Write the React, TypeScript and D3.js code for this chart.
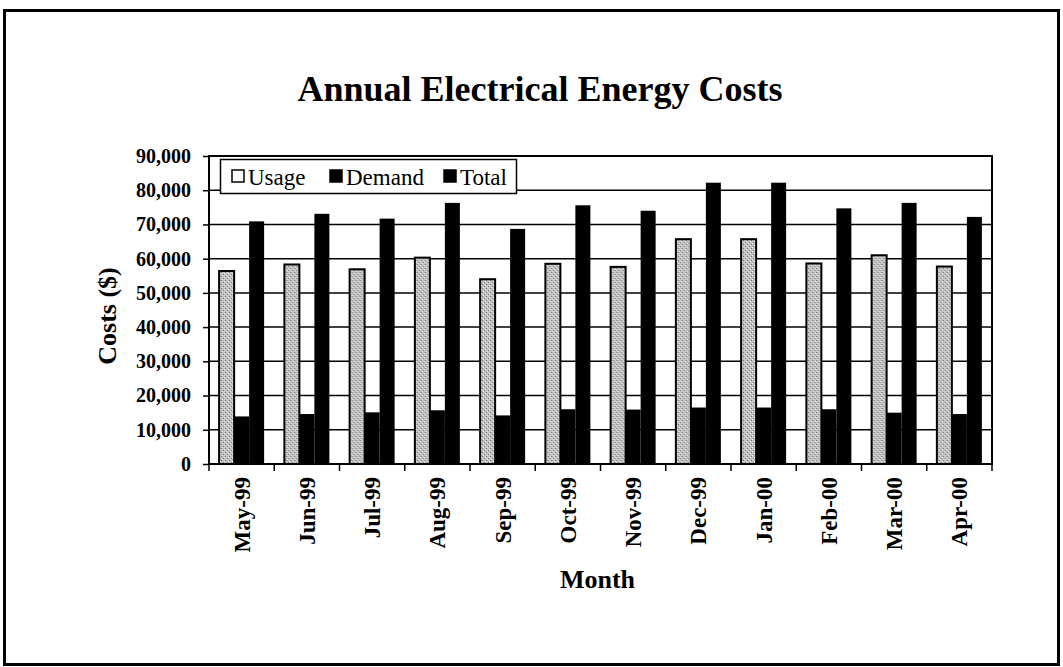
import * as d3 from "d3";
import { useEffect, useRef } from "react";

const months = [
    "May-99", "Jun-99", "Jul-99", "Aug-99", "Sep-99", "Oct-99",
    "Nov-99", "Dec-99", "Jan-00", "Feb-00", "Mar-00", "Apr-00",
];
const usage = [56400, 58300, 56900, 60300, 54000, 58500, 57600, 65700, 65700, 58600, 61000, 57700];
const demand = [13900, 14600, 15100, 15700, 14200, 16000, 15900, 16500, 16500, 16000, 15000, 14600];
const total = [70900, 73100, 71700, 76300, 68700, 75600, 74000, 82200, 82200, 74700, 76300, 72200];
const seriesNames = ["Usage", "Demand", "Total"];
const yTicks = [0, 10000, 20000, 30000, 40000, 50000, 60000, 70000, 80000, 90000];

const W = 1063;
const H = 667;
const FONT = "'Liberation Serif', 'Times New Roman', serif";

export default function App() {
    const ref = useRef<SVGSVGElement | null>(null);

    useEffect(() => {
        if (!ref.current) return;
        const svg = d3.select(ref.current);
        svg.selectAll("*").remove();

        const plot = { left: 209, right: 992, top: 156, bottom: 464 };

        // stipple fill for the usage bars
        const defs = svg.append("defs");
        const pat = defs
            .append("pattern")
            .attr("id", "stipple")
            .attr("width", 4)
            .attr("height", 4)
            .attr("patternUnits", "userSpaceOnUse");
        pat.append("rect").attr("width", 4).attr("height", 4).attr("fill", "#c2c2c2");
        pat.append("rect").attr("x", 0).attr("y", 0).attr("width", 1).attr("height", 1).attr("fill", "#6e6e6e");
        pat.append("rect").attr("x", 2).attr("y", 2).attr("width", 1).attr("height", 1).attr("fill", "#7c7c7c");
        pat.append("rect").attr("x", 3).attr("y", 1).attr("width", 1).attr("height", 1).attr("fill", "#f0f0f0");
        pat.append("rect").attr("x", 1).attr("y", 3).attr("width", 1).attr("height", 1).attr("fill", "#e6e6e6");

        // outer frame
        svg.append("rect")
            .attr("x", 4.5).attr("y", 10.5)
            .attr("width", 1054).attr("height", 654)
            .attr("fill", "white")
            .attr("stroke", "black")
            .attr("stroke-width", 3);

        const x0 = d3.scaleBand<string>().domain(months).range([plot.left, plot.right]).padding(0);
        const x1 = d3
            .scaleBand<string>()
            .domain(seriesNames)
            .range([0, x0.bandwidth()])
            .paddingInner(0)
            .paddingOuter(0.675);
        const y = d3.scaleLinear().domain([0, 90000]).range([plot.bottom, plot.top]);

        // gridlines
        svg.append("g")
            .selectAll("line")
            .data(yTicks.slice(1, -1))
            .join("line")
            .attr("x1", plot.left)
            .attr("x2", plot.right)
            .attr("y1", d => y(d))
            .attr("y2", d => y(d))
            .attr("stroke", "black")
            .attr("stroke-width", 1.5);

        const rows = months.map((m, i) => ({ month: m, values: [usage[i], demand[i], total[i]] }));

        const groups = svg
            .append("g")
            .selectAll("g")
            .data(rows)
            .join("g")
            .attr("transform", d => `translate(${x0(d.month)},0)`);

        groups
            .selectAll("rect")
            .data(d => d.values.map((v, j) => ({ key: seriesNames[j], v })))
            .join("rect")
            .attr("x", d => x1(d.key)!)
            .attr("width", x1.bandwidth())
            .attr("y", d => y(d.v))
            .attr("height", d => y(0) - y(d.v))
            .attr("fill", d => (d.key === "Usage" ? "url(#stipple)" : "black"))
            .attr("stroke", "black")
            .attr("stroke-width", d => (d.key === "Usage" ? 2 : 0));

        // plot border
        svg.append("rect")
            .attr("x", plot.left)
            .attr("y", plot.top)
            .attr("width", plot.right - plot.left)
            .attr("height", plot.bottom - plot.top)
            .attr("fill", "none")
            .attr("stroke", "black")
            .attr("stroke-width", 2);

        // y axis
        const yAxis = svg
            .append("g")
            .attr("transform", `translate(${plot.left},0)`)
            .call(d3.axisLeft(y).tickValues(yTicks).tickSize(6).tickPadding(12).tickFormat(d3.format(",") as any));
        yAxis.select(".domain").remove();
        yAxis.selectAll("line").attr("stroke", "black").attr("stroke-width", 1.5);
        yAxis.selectAll("text")
            .style("font-family", FONT)
            .style("font-size", "20px")
            .style("font-weight", "bold")
            .attr("fill", "black");

        // x ticks between months
        const edges = months.map(m => x0(m)!).concat([plot.right]);
        svg.append("g")
            .selectAll("line")
            .data(edges)
            .join("line")
            .attr("x1", d => d)
            .attr("x2", d => d)
            .attr("y1", plot.bottom)
            .attr("y2", plot.bottom + 7)
            .attr("stroke", "black")
            .attr("stroke-width", 1.5);

        svg.append("g")
            .selectAll("text")
            .data(months)
            .join("text")
            .attr("transform", d => `translate(${x0(d)! + x0.bandwidth() / 2},477) rotate(-90)`)
            .attr("dy", "0.35em")
            .attr("text-anchor", "end")
            .style("font-family", FONT)
            .style("font-size", "23px")
            .style("font-weight", "bold")
            .text(d => d);

        // legend
        const lg = svg.append("g");
        lg.append("rect")
            .attr("x", 220.5).attr("y", 159.5)
            .attr("width", 296).attr("height", 34)
            .attr("fill", "white")
            .attr("stroke", "black")
            .attr("stroke-width", 1.5);
        const legendX = [232, 330, 444];
        seriesNames.forEach((s, i) => {
            lg.append("rect")
                .attr("x", legendX[i]).attr("y", 170)
                .attr("width", 12).attr("height", 12)
                .attr("fill", i === 0 ? "white" : "black")
                .attr("stroke", "black")
                .attr("stroke-width", 1.5);
            lg.append("text")
                .attr("x", legendX[i] + 16)
                .attr("y", 185)
                .style("font-family", FONT)
                .style("font-size", "23px")
                .text(s);
        });

        // titles
        svg.append("text")
            .attr("x", 540).attr("y", 101)
            .attr("text-anchor", "middle")
            .style("font-family", FONT)
            .style("font-size", "36px")
            .style("font-weight", "bold")
            .text("Annual Electrical Energy Costs");

        svg.append("text")
            .attr("transform", "translate(107,316) rotate(-90)")
            .attr("dy", "0.35em")
            .attr("text-anchor", "middle")
            .style("font-family", FONT)
            .style("font-size", "26px")
            .style("font-weight", "bold")
            .text("Costs ($)");

        svg.append("text")
            .attr("x", (plot.left + plot.right) / 2 - 3)
            .attr("y", 588)
            .attr("text-anchor", "middle")
            .style("font-family", FONT)
            .style("font-size", "26px")
            .style("font-weight", "bold")
            .text("Month");
    }, []);

    return (
        <svg
            ref={ref}
            width={W}
            height={H}
            style={{ position: "absolute", left: 0, top: 0, background: "white" }}
        />
    );
}
